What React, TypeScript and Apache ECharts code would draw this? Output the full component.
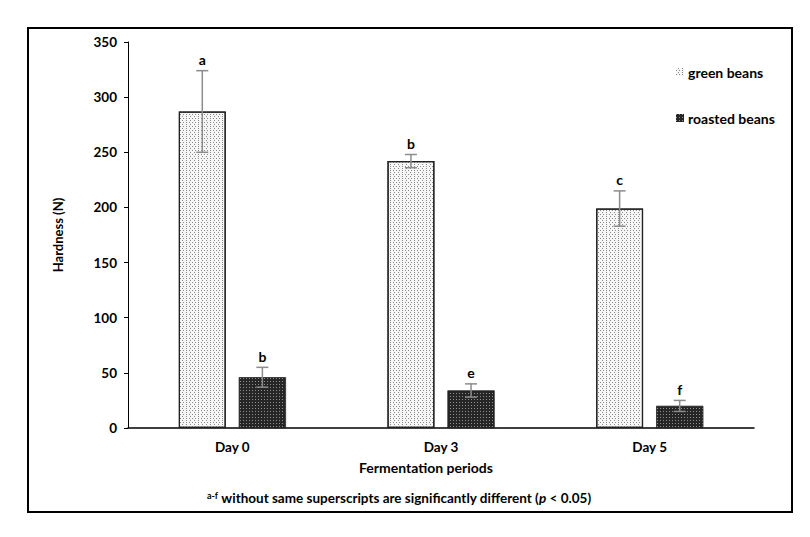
import React, { useEffect, useRef } from "react";
import * as echarts from "echarts";

const categories = ["Day 0", "Day 3", "Day 5"];
const greenBeans = [287, 242, 199];
const greenErr = [37, 6, 16];
const greenLetters = ["a", "b", "c"];
const roastedBeans = [46, 34, 20];
const roastedErr = [9, 6, 5];
const roastedLetters = ["b", "e", "f"];
const yTicks = { min: 0, max: 350, interval: 50 };

const FONT = "Lato";
const BAR_W = 0.225;
const BAR_GAP = 0.28;

function errorSeries(name: string, means: number[], errs: number[], letters: string[], sign: number) {
  return {
    type: "custom",
    name: name + " err",
    z: 5,
    silent: true,
    encode: { x: 0, y: 1 },
    data: means.map((m, i) => [i, m, errs[i]]),
    renderItem: (params: any, api: any) => {
      const i = api.value(0);
      const m = api.value(1);
      const e = api.value(2);
      const band = api.size([1, 0])[0];
      const bw = band * BAR_W;
      const off = sign * (bw / 2 + (bw * BAR_GAP) / 2);
      const top = api.coord([i, m + e]);
      const bot = api.coord([i, m - e]);
      const x = top[0] + off;
      const cap = 6;
      const st = { stroke: "#8c8c8c", lineWidth: 1.5 };
      return {
        type: "group",
        children: [
          { type: "line", shape: { x1: x, y1: top[1], x2: x, y2: bot[1] }, style: st },
          { type: "line", shape: { x1: x - cap, y1: top[1], x2: x + cap, y2: top[1] }, style: st },
          { type: "line", shape: { x1: x - cap, y1: bot[1], x2: x + cap, y2: bot[1] }, style: st },
          {
            type: "text",
            x: x,
            y: top[1] - 4,
            style: {
              text: letters[params.dataIndex],
              fontFamily: FONT,
              fontWeight: "bold",
              fontSize: 14,
              fill: "#000",
              align: "center",
              verticalAlign: "bottom",
            },
          },
        ],
      };
    },
  };
}

export default function App() {
  const ref = useRef<HTMLDivElement>(null);
  useEffect(() => {
    document.body.style.margin = "0";
    if (!ref.current) return;
    const chart = echarts.init(ref.current, null, { renderer: "svg" });
    chart.setOption({
      animation: false,
      backgroundColor: "#fff",
      textStyle: { fontFamily: FONT },
      grid: { left: 128, right: 56, top: 42, bottom: 109 },
      legend: {
        orient: "vertical",
        left: 671,
        top: 60,
        itemWidth: 8,
        itemHeight: 8,
        itemGap: 32,
        data: ["green beans", "roasted beans"],
        icon: "rect",
        itemStyle: { borderWidth: 0 },
        textStyle: { fontFamily: FONT, fontWeight: "bold", fontSize: 14, color: "#000", padding: [0, 0, 0, -1] },
      },
      xAxis: {
        type: "category",
        data: categories,
        name: "Fermentation periods",
        nameLocation: "middle",
        nameGap: 32,
        nameTextStyle: { fontFamily: FONT, fontWeight: "bold", fontSize: 14, color: "#000", padding: [0, 30, 0, 0] },
        axisLine: { lineStyle: { color: "#000", width: 1.5 } },
        axisTick: { alignWithLabel: true, length: 4, lineStyle: { color: "#555" } },
        axisLabel: { margin: 12, fontFamily: FONT, fontWeight: "bold", fontSize: 13.5, color: "#000" },
      },
      yAxis: {
        type: "value",
        min: yTicks.min,
        max: yTicks.max,
        interval: yTicks.interval,
        name: "Hardness (N)",
        nameLocation: "middle",
        nameGap: 64,
        nameTextStyle: { fontFamily: FONT, fontWeight: "bold", fontSize: 13, color: "#000" },
        axisLine: { show: true, lineStyle: { color: "#000", width: 1 } },
        axisTick: { show: true, length: 4, lineStyle: { color: "#000" } },
        splitLine: { show: false },
        axisLabel: { margin: 11, fontFamily: FONT, fontWeight: "bold", fontSize: 13.5, color: "#000" },
      },
      series: [
        {
          type: "bar",
          name: "green beans",
          data: greenBeans,
          barWidth: BAR_W * 100 + "%",
          barGap: BAR_GAP * 100 + "%",
          itemStyle: {
            color: "#f6f6f6",
            borderColor: "#222",
            borderWidth: 1.2,
            decal: {
              symbol: "rect",
              symbolSize: 1,
              color: "#8a8a8a",
              dashArrayX: [[1, 2], [0, 1.5, 1, 0.5]],
              dashArrayY: [1, 1],
              rotation: 0,
            },
          },
        },
        {
          type: "bar",
          name: "roasted beans",
          data: roastedBeans,
          barWidth: BAR_W * 100 + "%",
          itemStyle: {
            color: "#262626",
            borderColor: "#222",
            borderWidth: 0.5,
            decal: {
              symbol: "rect",
              symbolSize: 1,
              color: "#8f8f8f",
              dashArrayX: [[1, 2]],
              dashArrayY: [1, 2],
              rotation: 0,
            },
          },
        },
        errorSeries("green beans", greenBeans, greenErr, greenLetters, -1),
        errorSeries("roasted beans", roastedBeans, roastedErr, roastedLetters, 1),
      ],
      graphic: [
        {
          type: "rect",
          shape: { x: 28, y: 28, width: 764, height: 484 },
          style: { fill: "none", stroke: "#000", lineWidth: 2 },
          silent: true,
          z: 100,
        },
        {
          type: "text",
          x: 399,
          y: 498,
          style: {
            text: "{sup|a-f}{n| without same superscripts are significantly different (}{i|p}{n| < 0.05)}",
            align: "center",
            verticalAlign: "middle",
            rich: {
              sup: { fontFamily: FONT, fontWeight: "bold", fontSize: 9, verticalAlign: "top", padding: [0, 0, 6, 0] },
              n: { fontFamily: FONT, fontWeight: "bold", fontSize: 13.5, fill: "#000" },
              i: { fontFamily: FONT, fontWeight: "bold", fontStyle: "italic", fontSize: 13.5, fill: "#000" },
            },
          },
          z: 100,
        },
      ],
    });
    return () => chart.dispose();
  }, []);
  return <div ref={ref} style={{ width: 810, height: 537 }} />;
}
